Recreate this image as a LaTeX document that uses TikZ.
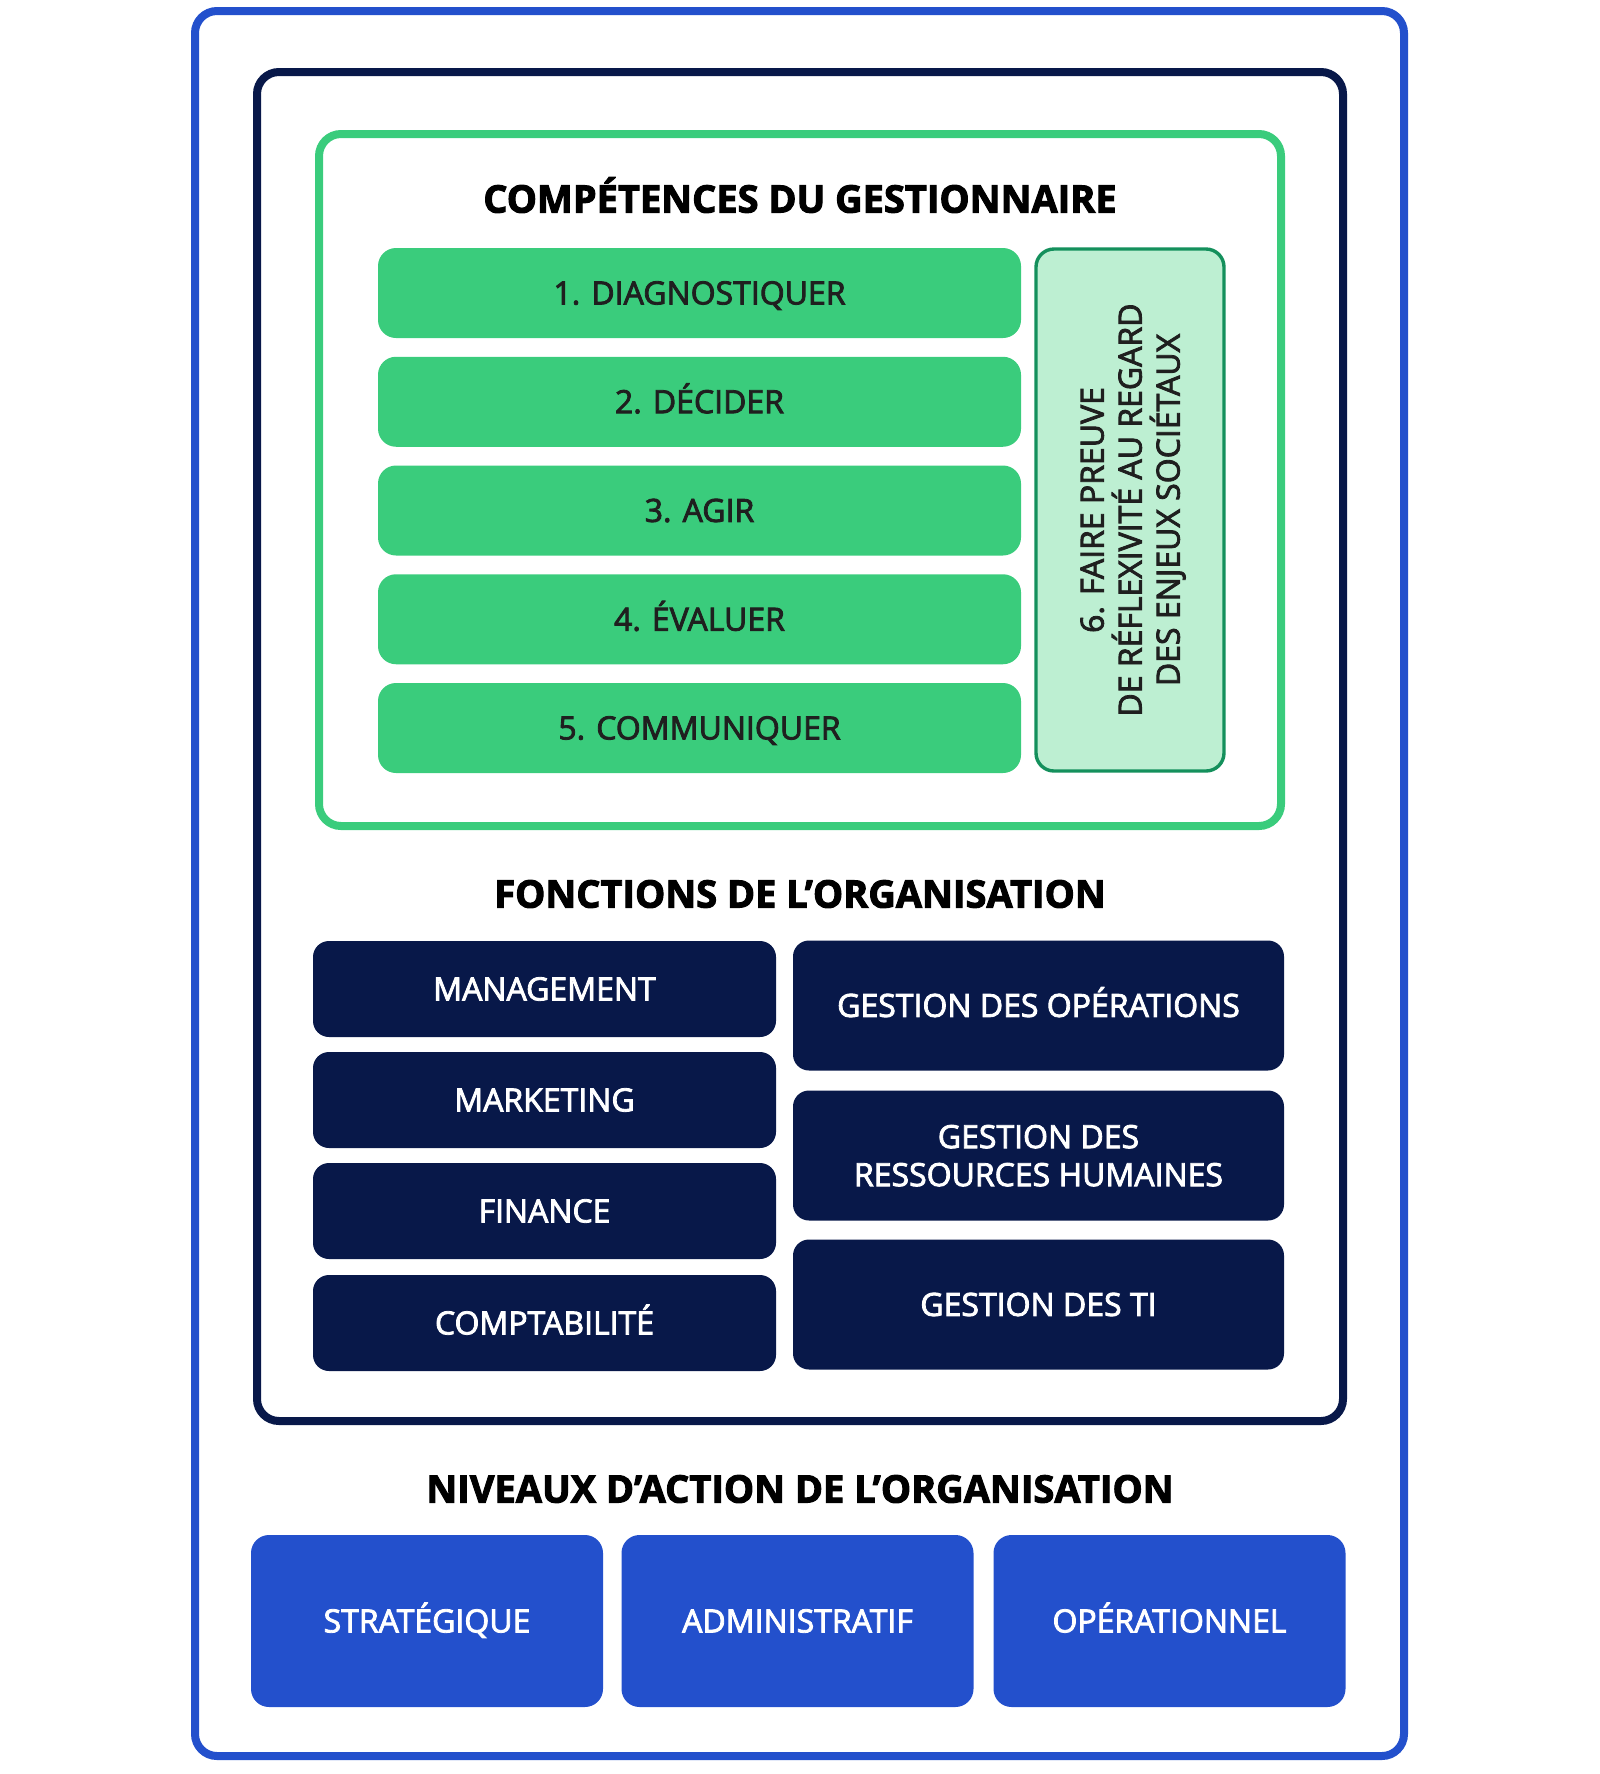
\documentclass[tikz,border=0pt]{standalone}
\usepackage{fontspec}
\setmainfont{Open Sans}
\newfontfamily\demigras{Open Sans}[FakeBold=2.6]
\newfontfamily\tresgras{Open Sans Bold}[FakeBold=2.6]
\definecolor{bleu}{HTML}{2350CC}
\definecolor{marine}{HTML}{081849}
\definecolor{vert}{HTML}{3ACC7C}
\definecolor{vertpale}{HTML}{BDEFD2}
\definecolor{vertfonce}{HTML}{14905C}
\definecolor{texte}{HTML}{1F1F1F}
\begin{document}
\begin{tikzpicture}[x=0.5pt, y=-0.5pt,
		titre/.style={font=\tresgras\fontsize{19}{22}\selectfont, text=black, text height=13.6pt, text depth=0pt},
		etiquette/.style={font=\demigras\fontsize{16}{19}\selectfont, text depth=0pt},
		uneligne/.style={text height=11.4pt},
		compbox/.style={etiquette, uneligne, fill=vert, rounded corners=9pt, minimum width=321.5pt, minimum height=45pt, text=texte},
		foncbox/.style={etiquette, fill=marine, rounded corners=8pt, minimum height=48pt, text=white, align=center},
		niveaubox/.style={etiquette, uneligne, fill=bleu, rounded corners=9pt, minimum width=176pt, minimum height=86pt, text=white}]
	\useasboundingbox (0,0) rectangle (1600,1774);
	
	% cadres
	\draw[bleu, line width=4pt, rounded corners=11pt] (195,11) rectangle (1404,1756);
	\draw[marine, line width=4pt, rounded corners=11pt] (257,72) rectangle (1343,1421);
	\draw[vert, line width=4pt, rounded corners=11pt] (319,134) rectangle (1281,826);
	
	% competences
	\node[titre] (titre1) at (800,199) {COMPÉTENCES DU GESTIONNAIRE};
	\foreach \i/\txt in {1/1. DIAGNOSTIQUER, 2/2. DÉCIDER, 3/3. AGIR, 4/4. ÉVALUER, 5/5. COMMUNIQUER}
		\node[compbox] (comp\i) at (699.5, {293+108.75*(\i-1)}) {\txt};
	\node[etiquette, draw=vertfonce, line width=1.7pt, fill=vertpale, rounded corners=9pt, rotate=90,
		minimum width=261pt, minimum height=94pt, align=center, text=texte] (comp6) at (1130,510)
		{6. FAIRE PREUVE\\DE RÉFLEXIVITÉ AU REGARD\\DES ENJEUX SOCIÉTAUX};
	
	% fonctions
	\node[titre] (titre2) at (800,894) {FONCTIONS DE L’ORGANISATION};
	\node[foncbox, uneligne, minimum width=231.5pt] (fonc1) at (544.5,989) {MANAGEMENT};
	\node[foncbox, uneligne, minimum width=231.5pt] (fonc2) at (544.5,1100) {MARKETING};
	\node[foncbox, uneligne, minimum width=231.5pt] (fonc3) at (544.5,1211) {FINANCE};
	\node[foncbox, uneligne, minimum width=231.5pt] (fonc4) at (544.5,1323) {COMPTABILITÉ};
	\node[foncbox, uneligne, minimum width=245.5pt, minimum height=65pt] (fonc5) at (1038.5,1005.5) {GESTION DES OPÉRATIONS};
	\node[foncbox, minimum width=245.5pt, minimum height=65pt] (fonc6) at (1038.5,1155.5) {GESTION DES\\RESSOURCES HUMAINES};
	\node[foncbox, uneligne, minimum width=245.5pt, minimum height=65pt] (fonc7) at (1038.5,1304.5) {GESTION DES TI};
	
	% niveaux
	\node[titre] (titre3) at (800,1489) {NIVEAUX D’ACTION DE L’ORGANISATION};
	\node[niveaubox] (niv1) at (427,1621) {STRATÉGIQUE};
	\node[niveaubox] (niv2) at (797.5,1621) {ADMINISTRATIF};
	\node[niveaubox] (niv3) at (1169.5,1621) {OPÉRATIONNEL};
\end{tikzpicture}
\end{document}
